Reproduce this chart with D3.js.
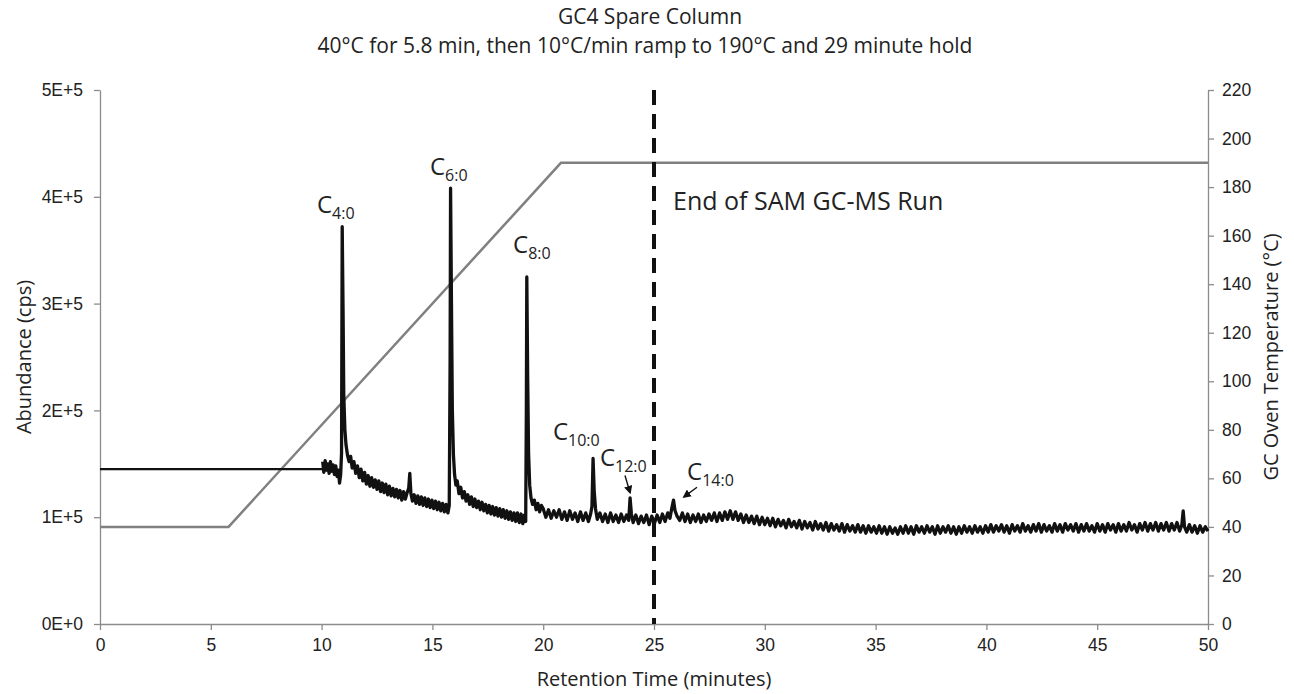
<!DOCTYPE html>
<html>
<head>
<meta charset="utf-8">
<script src="https://cdn.jsdelivr.net/npm/d3@7"></script>
<style>
  body { margin: 0; background: #fff; }
  svg { font-family: "Open Sans", sans-serif; }
  .axis path, .axis line { stroke: #8c8c8c; stroke-width: 1.3; }
  .axis text { fill: #222; font-size: 17.5px; }
</style>
</head>
<body>
<div id="chart"></div>
<script>
// temperature program (min, degC)
var tempTimes = [0, 5.8, 20.8, 50];
var tempValues = [40, 40, 190, 190];

// detector not yet recording: flat level before 10 min (min, kcps)
var traceHold = [[0, 145], [10.05, 145]];

// chromatogram (min, kcps)
var traceSignal = [
  [10.05,152],[10.1,142],[10.16,153],[10.22,144],[10.28,150],[10.34,141],[10.4,152],[10.46,143],[10.52,149],[10.58,140],
  [10.64,148],[10.7,138],[10.76,144],[10.81,132],[10.86,140],[10.9,160],[10.93,372],[10.97,290],[11.0,215],[11.05,182],
  [11.1,168],[11.17,158],[11.24,152],[11.31,157],[11.38,146],[11.46,152],[11.54,141],[11.62,148],[11.7,137],[11.78,145],
  [11.86,134],[11.94,142],[12.02,131],[12.1,139],[12.18,129],[12.26,137],[12.34,128],[12.42,135],[12.5,126],[12.58,134],
  [12.66,124],[12.74,132],[12.82,123],[12.9,131],[12.98,121],[13.06,129],[13.14,120],[13.22,127],[13.3,119],[13.38,126],
  [13.46,118],[13.54,125],[13.62,116],[13.7,124],[13.78,117],[13.86,123],[13.93,127],[13.98,141],[14.03,122],[14.1,115],
  [14.18,121],[14.26,113],[14.34,120],[14.42,112],[14.5,119],[14.58,111],[14.66,118],[14.74,110],[14.82,117],[14.9,109],
  [14.98,116],[15.06,108],[15.14,115],[15.22,107],[15.3,114],[15.38,106],[15.46,113],[15.54,105],[15.62,112],[15.7,104],
  [15.76,111],[15.8,250],[15.82,408],[15.86,300],[15.9,200],[15.95,158],[16.0,140],[16.06,130],[16.12,134],[16.2,122],
  [16.28,128],[16.36,118],[16.44,124],[16.52,115],[16.6,121],[16.68,112],[16.76,119],[16.84,110],[16.92,117],[17.0,109],
  [17.08,115],[17.16,107],[17.24,114],[17.32,106],[17.4,112],[17.48,104],[17.56,111],[17.64,103],[17.72,110],[17.8,102],
  [17.88,109],[17.96,101],[18.04,108],[18.12,100],[18.2,107],[18.28,99],[18.36,106],[18.44,98],[18.52,105],[18.6,97],
  [18.68,104],[18.76,96],[18.84,104],[18.92,95],[19.0,103],[19.08,94],[19.15,102],[19.21,96],[19.24,200],[19.26,325],
  [19.3,230],[19.34,160],[19.39,130],[19.45,118],[19.52,112],[19.6,116],[19.68,107],[19.76,113],[19.84,105],[19.92,111],
  [20.0,108],[20.12,100],[20.24,107],[20.36,99],[20.48,106],[20.6,100],[20.72,107],[20.84,98],[20.96,105],[21.08,97],
  [21.2,106],[21.32,98],[21.44,104],[21.56,96],[21.68,105],[21.8,97],[21.92,104],[22.04,96],[22.14,103],[22.2,110],
  [22.25,155],[22.3,125],[22.36,108],[22.44,98],[22.56,104],[22.68,96],[22.8,103],[22.92,95],[23.04,104],[23.16,96],
  [23.28,102],[23.4,95],[23.52,103],[23.64,96],[23.76,102],[23.86,97],[23.92,118],[23.98,103],[24.06,95],[24.18,102],
  [24.3,94],[24.42,101],[24.54,95],[24.66,102],[24.78,93],[24.9,101],[25.02,94],[25.14,102],[25.26,95],[25.38,103],
  [25.5,96],[25.62,104],[25.72,99],[25.8,108],[25.88,116],[25.95,106],[26.04,101],[26.16,97],[26.28,104],[26.4,96],
  [26.52,103],[26.64,95],[26.76,102],[26.88,96],[27.0,103],[27.12,95],[27.24,102],[27.36,96],[27.48,103],[27.6,97],
  [27.72,104],[27.84,96],[27.96,104],[28.08,97],[28.2,105],[28.32,98],[28.44,106],[28.56,98],[28.68,105],[28.8,97],
  [28.92,103],[29.04,95],[29.16,102],[29.28,95],[29.4,101],[29.52,94],[29.64,101],[29.76,93],[29.88,100],[30.0,93],
  [30.12,99],[30.24,92],[30.36,99],[30.48,91],[30.6,98],[30.72,92],[30.84,97],[30.96,90],[31.08,98],[31.2,91],
  [31.32,96],[31.44,90],[31.56,97],[31.68,89],[31.8,96],[31.92,90],[32.04,95],[32.16,88],[32.28,96],[32.4,89],
  [32.52,94],[32.64,88],[32.76,95],[32.88,87],[33.0,94],[33.12,88],[33.24,93],[33.36,87],[33.48,94],[33.6,86],
  [33.72,93],[33.84,87],[33.96,92],[34.08,86],[34.2,93],[34.32,86],[34.44,92],[34.56,85],[34.68,92],[34.8,86],
  [34.92,91],[35.04,85],[35.16,92],[35.28,85],[35.4,91],[35.52,84],[35.64,91],[35.76,85],[35.88,90],[36.0,84],
  [36.12,91],[36.24,85],[36.36,92],[36.48,85],[36.6,91],[36.72,84],[36.84,92],[36.96,86],[37.08,91],[37.2,85],
  [37.32,92],[37.44,86],[37.56,91],[37.68,84],[37.8,92],[37.92,85],[38.04,91],[38.16,86],[38.28,92],[38.4,85],
  [38.52,91],[38.64,84],[38.76,91],[38.88,85],[39.0,92],[39.12,86],[39.24,91],[39.36,85],[39.48,92],[39.6,86],
  [39.72,91],[39.84,85],[39.96,92],[40.08,86],[40.2,93],[40.32,86],[40.44,92],[40.56,87],[40.68,93],[40.8,86],
  [40.92,92],[41.04,85],[41.16,93],[41.28,87],[41.4,92],[41.52,86],[41.64,94],[41.76,87],[41.88,92],[42.0,86],
  [42.12,93],[42.24,87],[42.36,94],[42.48,86],[42.6,93],[42.72,87],[42.84,92],[42.96,86],[43.08,94],[43.2,87],
  [43.32,93],[43.44,86],[43.56,94],[43.68,88],[43.8,93],[43.92,87],[44.04,94],[44.16,86],[44.28,93],[44.4,87],
  [44.52,94],[44.64,87],[44.76,92],[44.88,86],[45.0,94],[45.12,87],[45.24,93],[45.36,86],[45.48,94],[45.6,88],
  [45.72,93],[45.84,86],[45.96,94],[46.08,87],[46.2,93],[46.32,87],[46.44,95],[46.56,88],[46.68,93],[46.8,86],
  [46.92,94],[47.04,88],[47.16,95],[47.28,87],[47.4,94],[47.52,88],[47.64,95],[47.76,87],[47.88,94],[48.0,88],
  [48.12,95],[48.24,87],[48.36,94],[48.48,88],[48.6,95],[48.72,87],[48.82,93],[48.88,106],[48.94,91],[49.04,86],
  [49.16,93],[49.28,86],[49.4,92],[49.52,85],[49.64,92],[49.76,86],[49.88,91],[50.0,87]
];

// axis ticks
var xTicks = [0, 5, 10, 15, 20, 25, 30, 35, 40, 45, 50];
var yLeftTicks = [0, 100000, 200000, 300000, 400000, 500000];
var yLeftLabels = ["0E+0", "1E+5", "2E+5", "3E+5", "4E+5", "5E+5"];
var yRightTicks = [0, 20, 40, 60, 80, 100, 120, 140, 160, 180, 200, 220];

// peak labels: [subscript, time, kcps at label baseline]
var peakLabels = [
  ["4:0", 9.79, 385], ["6:0", 14.89, 420], ["8:0", 18.64, 347],
  ["10:0", 20.44, 172], ["12:0", 22.56, 148], ["14:0", 26.49, 135]
];
// arrows: [t1, k1, t2, k2]
var peakArrows = [[23.69, 139, 23.92, 123], [26.94, 128, 26.35, 119]];

var endOfRun = 25;

var margin = { top: 90, right: 86, bottom: 70, left: 100 },
  width = 1294 - margin.left - margin.right,
  height = 694 - margin.top - margin.bottom;

var svg = d3.select("#chart").append("svg")
  .attr("width", 1294)
  .attr("height", 694);

svg.append("defs").append("marker")
  .attr("id", "arrow")
  .attr("viewBox", "0 0 10 10")
  .attr("refX", 8).attr("refY", 5)
  .attr("markerWidth", 6).attr("markerHeight", 6)
  .attr("orient", "auto")
  .append("path")
  .attr("d", "M0,0 L10,5 L0,10 z")
  .attr("fill", "#111");

var g = svg.append("g")
  .attr("transform", "translate(" + margin.left + "," + margin.top + ")");

var x = d3.scaleLinear().domain([0, 50]).range([0, width]);
var y = d3.scaleLinear().domain([0, 500000]).range([height, 0]);
var yT = d3.scaleLinear().domain([0, 220]).range([height, 0]);

// axes
g.append("g")
  .attr("class", "axis")
  .attr("transform", "translate(0," + height + ")")
  .call(d3.axisBottom(x).tickValues(xTicks).tickSize(6).tickPadding(9).tickSizeOuter(0));

g.append("g")
  .attr("class", "axis")
  .call(d3.axisLeft(y).tickValues(yLeftTicks).tickSize(6).tickPadding(11).tickSizeOuter(0)
    .tickFormat(function (d, i) { return yLeftLabels[i]; }));

g.append("g")
  .attr("class", "axis")
  .attr("transform", "translate(" + width + ",0)")
  .call(d3.axisRight(yT).tickValues(yRightTicks).tickSize(6).tickPadding(8).tickSizeOuter(0));

// temperature line
var tempData = tempTimes.map(function (t, i) { return [t, tempValues[i]]; });
g.append("path")
  .datum(tempData)
  .attr("fill", "none")
  .attr("stroke", "#808080")
  .attr("stroke-width", 2.5)
  .attr("d", d3.line()
    .x(function (d) { return x(d[0]); })
    .y(function (d) { return yT(d[1]); }));

// chromatogram
var traceLine = d3.line()
  .x(function (d) { return x(d[0]); })
  .y(function (d) { return y(d[1] * 1000); });

g.append("path")
  .datum(traceHold)
  .attr("fill", "none")
  .attr("stroke", "#111")
  .attr("stroke-width", 2.4)
  .attr("d", traceLine);

g.append("path")
  .datum(traceSignal)
  .attr("fill", "none")
  .attr("stroke", "#111")
  .attr("stroke-width", 3.3)
  .attr("stroke-linejoin", "round")
  .attr("d", traceLine);

// end of SAM run marker
g.append("line")
  .attr("x1", x(endOfRun)).attr("x2", x(endOfRun))
  .attr("y1", 0).attr("y2", height)
  .attr("stroke", "#111")
  .attr("stroke-width", 4)
  .attr("stroke-dasharray", "15,9");

g.append("text")
  .attr("x", x(25.86))
  .attr("y", y(387600))
  .style("font-size", "25px")
  .attr("fill", "#222")
  .text("End of SAM GC-MS Run");

// peak labels
peakLabels.forEach(function (p) {
  var t = g.append("text")
    .attr("x", x(p[1]))
    .attr("y", y(p[2] * 1000))
    .attr("fill", "#222");
  t.append("tspan").style("font-size", "24px").text("C");
  t.append("tspan").attr("dy", 6).style("font-size", "16px").text(p[0]);
});

peakArrows.forEach(function (a) {
  g.append("line")
    .attr("x1", x(a[0])).attr("y1", y(a[1] * 1000))
    .attr("x2", x(a[2])).attr("y2", y(a[3] * 1000))
    .attr("stroke", "#111")
    .attr("stroke-width", 1.4)
    .attr("marker-end", "url(#arrow)");
});

// titles
svg.append("text")
  .attr("x", margin.left + width / 2 - 4)
  .attr("y", 24)
  .attr("text-anchor", "middle")
  .style("font-size", "21px")
  .attr("fill", "#222")
  .text("GC4 Spare Column");

svg.append("text")
  .attr("x", margin.left + width / 2 - 9)
  .attr("y", 53)
  .attr("text-anchor", "middle")
  .style("font-size", "21px")
  .attr("fill", "#222")
  .text("40°C for 5.8 min, then 10°C/min ramp to 190°C and 29 minute hold");

svg.append("text")
  .attr("transform", "rotate(-90)")
  .attr("x", -(margin.top + height / 2))
  .attr("y", 31)
  .attr("text-anchor", "middle")
  .style("font-size", "20px")
  .attr("fill", "#222")
  .text("Abundance (cps)");

svg.append("text")
  .attr("transform", "rotate(-90)")
  .attr("x", -(margin.top + height / 2))
  .attr("y", 1278)
  .attr("text-anchor", "middle")
  .style("font-size", "20px")
  .attr("fill", "#222")
  .text("GC Oven Temperature (°C)");

svg.append("text")
  .attr("x", margin.left + width / 2)
  .attr("y", 686)
  .attr("text-anchor", "middle")
  .style("font-size", "20px")
  .attr("fill", "#222")
  .text("Retention Time (minutes)");
</script>
</body>
</html>
